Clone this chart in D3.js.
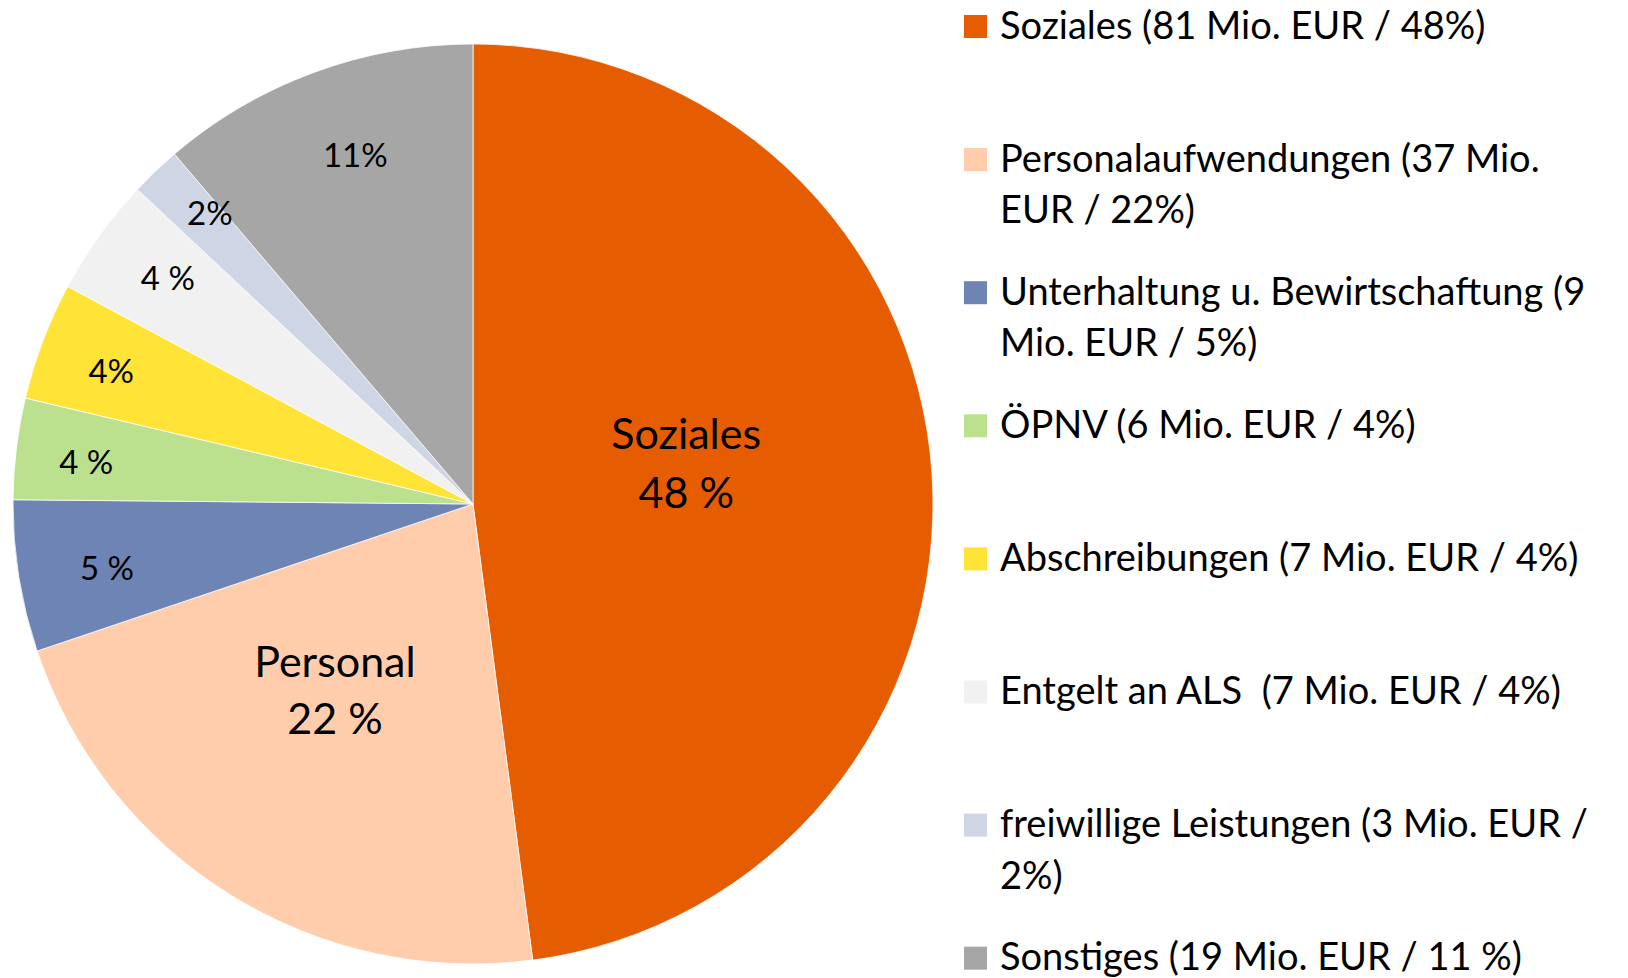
<!DOCTYPE html>
<html>
<head>
<meta charset="utf-8">
<script src="https://cdn.jsdelivr.net/npm/d3@7"></script>
<style>
  html, body { margin: 0; padding: 0; background: #ffffff; }
  svg { display: block; }
  text { font-family: Lato, "Noto Sans", sans-serif; fill: #000; }
</style>
</head>
<body>
<svg id="chart" width="1628" height="978"></svg>
<script>
// ---- data ----
const categories = ["Soziales", "Personalaufwendungen", "Unterhaltung u. Bewirtschaftung", "ÖPNV",
                    "Abschreibungen", "Entgelt an ALS", "freiwillige Leistungen", "Sonstiges"];
const valuesMioEUR = [81, 37, 9, 6, 7, 7, 3, 19];
const sliceLabels = ["Soziales\n48 %", "Personal\n22 %", "5 %", "4 %", "4%", "4 %", "2%", "11%"];
const legendLabels = [
  "Soziales (81 Mio. EUR / 48%)",
  "Personalaufwendungen (37 Mio.\nEUR / 22%)",
  "Unterhaltung u. Bewirtschaftung (9\nMio. EUR / 5%)",
  "ÖPNV (6 Mio. EUR / 4%)",
  "Abschreibungen (7 Mio. EUR / 4%)",
  "Entgelt an ALS  (7 Mio. EUR / 4%)",
  "freiwillige Leistungen (3 Mio. EUR /\n2%)",
  "Sonstiges (19 Mio. EUR / 11 %)"
];
const colors = ["#E65C00", "#FFCDAB", "#6E84B4", "#BBE18F", "#FFE337", "#F1F1F1", "#CED6E5", "#A6A6A6"];

// ---- layout ----
const svg = d3.select("#chart");
const cx = 473, cy = 504, R = 460;
const data = categories.map((c, i) => ({ cat: c, value: valuesMioEUR[i], label: sliceLabels[i], color: colors[i] }));

const pie = d3.pie().value(d => d.value).sort(null);
const arcs = pie(data);
const arc = d3.arc().innerRadius(0).outerRadius(R);

const g = svg.append("g").attr("transform", `translate(${cx},${cy})`);
g.selectAll("path.slice").data(arcs).enter().append("path")
  .attr("class", "slice")
  .attr("d", arc)
  .attr("fill", d => d.data.color)
  .attr("stroke", "#ffffff")
  .attr("stroke-width", 0.75);

// label placement (Excel "best fit"-like): radius fraction and small angular shift per slice
const placement = [
  { rf: 0.472, shift: -7.2, fs: 43, lh: 59 },
  { rf: 0.504, shift: 4.6, fs: 43, lh: 57 },
  { rf: 0.808, shift: -0.9, fs: 33, lh: 0 },
  { rf: 0.846, shift: -0.7, fs: 33, lh: 0 },
  { rf: 0.838, shift: -0.55, fs: 33, lh: 0 },
  { rf: 0.825, shift: 0.8, fs: 33, lh: 0 },
  { rf: 0.852, shift: 1.5, fs: 33, lh: 0 },
  { rf: 0.801, shift: 1.6, fs: 33, lh: 0 }
];

const lab = g.selectAll("g.lab").data(arcs).enter().append("g").attr("class", "lab");
lab.each(function(d) {
  const p = placement[d.index];
  const a = (d.startAngle + d.endAngle) / 2 + p.shift * Math.PI / 180;
  const rr = R * p.rf;
  const la = d3.arc().innerRadius(rr).outerRadius(rr);
  const c = la.centroid({ startAngle: a, endAngle: a });
  const lines = d.data.label.split("\n");
  const capH = 0.717 * p.fs;
  const t = d3.select(this).append("text")
    .attr("text-anchor", "middle")
    .attr("font-size", p.fs);
  lines.forEach((ln, i) => {
    t.append("tspan")
      .attr("x", c[0])
      .attr("y", c[1] + (i - (lines.length - 1) / 2) * p.lh + capH / 2)
      .text(ln);
  });
});

// ---- legend ----
const legX = 964, legFirstBaseline = 38.5, legStep = 133.1, legLine = 51.5, legFS = 38;
const leg = svg.append("g");
legendLabels.forEach((txt, i) => {
  const base = legFirstBaseline + i * legStep;
  leg.append("rect")
    .attr("x", legX).attr("y", base - 23.5)
    .attr("width", 23).attr("height", 23)
    .attr("fill", colors[i]);
  const t = leg.append("text").attr("font-size", legFS).attr("xml:space", "preserve");
  txt.split("\n").forEach((ln, j) => {
    t.append("tspan").attr("x", legX + 36).attr("y", base + j * legLine).text(ln);
  });
});
</script>
</body>
</html>
